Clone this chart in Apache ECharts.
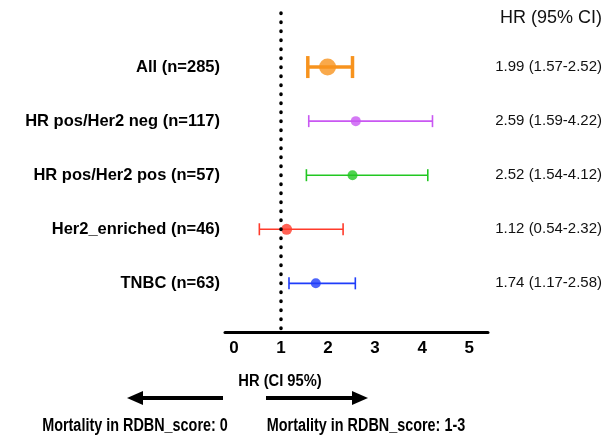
<!DOCTYPE html>
<html>
<head>
<meta charset="utf-8">
<script src="https://cdn.jsdelivr.net/npm/echarts@6/dist/echarts.min.js"></script>
<style>
    html, body { margin: 0; padding: 0; background: #fff; }
    #main { width: 605px; height: 436px; }
</style>
</head>
<body>
<div id="main"></div>
<script>
// 各亚组
const groups = ['All (n=285)', 'HR pos/Her2 neg (n=117)', 'HR pos/Her2 pos (n=57)', 'Her2_enriched (n=46)', 'TNBC (n=63)'];
const hr = [1.99, 2.59, 2.52, 1.12, 1.74];
const ciLow = [1.57, 1.59, 1.54, 0.54, 1.17];
const ciHigh = [2.52, 4.22, 4.12, 2.32, 2.58];
const xTicks = [0, 1, 2, 3, 4, 5];

// 样式
const colors = ['#F7931E', '#C957F2', '#22C722', '#FF3B2B', '#1F3DFA'];
const dotSize = [17, 10, 10, 11, 10];
const lineW = [3.5, 1.6, 1.6, 1.6, 1.6];
const capH = [22, 12, 12, 12, 12];

const sans = '"Liberation Sans", Arial, sans-serif';

function hrText(i) {
    return hr[i].toFixed(2) + ' (' + ciLow[i].toFixed(2) + '-' + ciHigh[i].toFixed(2) + ')';
}

var myChart = echarts.init(document.getElementById('main'));

var barData = [];
var pointData = [];
for (var i = 0; i < groups.length; i++) {
    barData.push([ciLow[i], ciHigh[i], i]);
    pointData.push({
        value: [hr[i], i],
        symbolSize: dotSize[i],
        itemStyle: { color: colors[i] }
    });
}

var option = {
    animation: false,
    grid: { left: 225, right: 117, top: 13, bottom: 104 },
    xAxis: {
        type: 'value',
        min: -0.19,
        max: 5.4,
        splitLine: { show: false },
        axisTick: { show: false },
        axisLine: { show: true, onZero: false, lineStyle: { color: '#000', width: 3, cap: 'round' } },
        axisLabel: {
            customValues: xTicks,
            color: '#000',
            fontWeight: 'bold',
            fontSize: 17,
            fontFamily: sans,
            margin: 8
        }
    },
    yAxis: [{
        type: 'value',
        min: -1,
        max: 4.9,
        interval: 1,
        inverse: true,
        position: 'left',
        splitLine: { show: false },
        axisLine: { show: false, onZero: false },
        axisTick: { show: false },
        axisLabel: {
            margin: 5,
            color: '#000',
            fontWeight: 'bold',
            fontSize: 16.5,
            fontFamily: sans,
            formatter: function (v) {
                return groups[v] !== undefined ? groups[v] : '';
            }
        }
    }, {
        type: 'value',
        min: -1,
        max: 4.9,
        interval: 1,
        inverse: true,
        position: 'right',
        splitLine: { show: false },
        axisLine: { show: false, onZero: false },
        axisTick: { show: false },
        axisLabel: {
            margin: 114,
            align: 'right',
            color: '#111',
            fontSize: 15,
            fontFamily: sans,
            formatter: function (v) {
                return groups[v] !== undefined ? hrText(v) : '';
            }
        }
    }],
    series: [{
        type: 'custom',
        z: 2,
        data: barData,
        renderItem: function (params, api) {
            var i = params.dataIndex;
            var row = api.value(2);
            var p1 = api.coord([api.value(0), row]);
            var p2 = api.coord([api.value(1), row]);
            var h = capH[i] / 2;
            var st = { stroke: colors[i], lineWidth: lineW[i] };
            return {
                type: 'group',
                children: [
                    { type: 'line', shape: { x1: p1[0], y1: p1[1], x2: p2[0], y2: p2[1] }, style: st },
                    { type: 'line', shape: { x1: p1[0], y1: p1[1] - h, x2: p1[0], y2: p1[1] + h }, style: st },
                    { type: 'line', shape: { x1: p2[0], y1: p2[1] - h, x2: p2[0], y2: p2[1] + h }, style: st }
                ]
            };
        },
        markLine: {
            silent: true,
            symbol: 'none',
            label: { show: false },
            lineStyle: { color: '#000', width: 3.5, type: [0.5, 8.5], cap: 'round' },
            data: [{ xAxis: 1 }]
        }
    }, {
        type: 'scatter',
        z: 3,
        symbol: 'circle',
        data: pointData
    }],
    graphic: [
        {
            type: 'text', right: 3, top: 9,
            style: { text: 'HR (95% CI)', fill: '#111', font: '18px ' + sans }
        },
        {
            type: 'text', x: 280, y: 382, scaleX: 0.92,
            style: { text: 'HR (CI 95%)', fill: '#000', font: 'bold 16px ' + sans, align: 'center', verticalAlign: 'middle' }
        },
        // 左箭头
        { type: 'line', shape: { x1: 223, y1: 398, x2: 140, y2: 398 }, style: { stroke: '#000', lineWidth: 4 } },
        { type: 'polygon', shape: { points: [[127, 398], [143, 391], [143, 405]] }, style: { fill: '#000' } },
        // 右箭头
        { type: 'line', shape: { x1: 266, y1: 398, x2: 354, y2: 398 }, style: { stroke: '#000', lineWidth: 4 } },
        { type: 'polygon', shape: { points: [[368, 398], [352, 391], [352, 405]] }, style: { fill: '#000' } },
        {
            type: 'text', x: 135, y: 426, scaleX: 0.8,
            style: { text: 'Mortality in RDBN_score: 0', fill: '#000', font: 'bold 18px ' + sans, align: 'center', verticalAlign: 'middle' }
        },
        {
            type: 'text', x: 366, y: 426, scaleX: 0.8,
            style: { text: 'Mortality in RDBN_score: 1-3', fill: '#000', font: 'bold 18px ' + sans, align: 'center', verticalAlign: 'middle' }
        }
    ]
};

myChart.setOption(option);
</script>
</body>
</html>
